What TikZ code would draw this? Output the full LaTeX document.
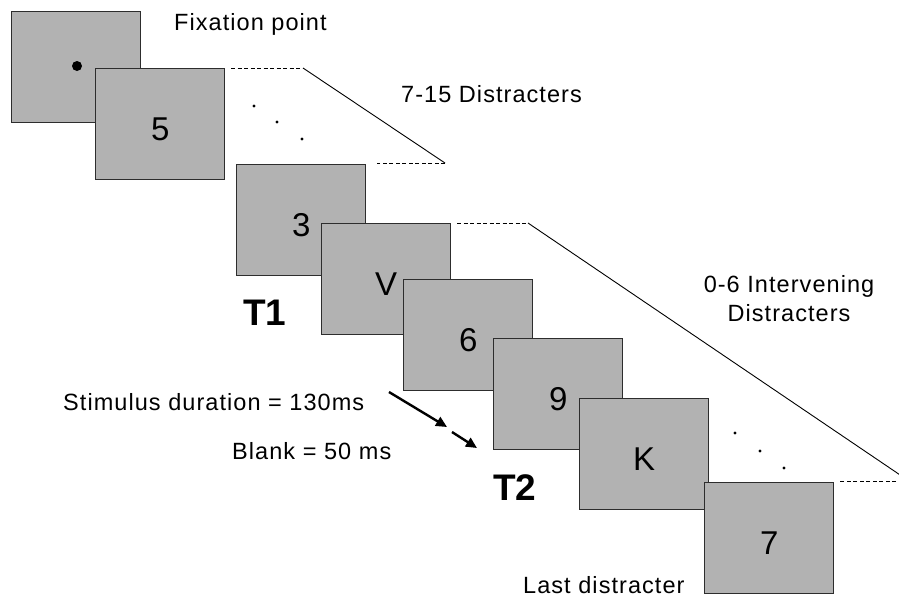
\documentclass[tikz,border=0pt]{standalone}
\usepackage{fontspec}
\setmainfont{Liberation Sans}
\newfontfamily\lbl[LetterSpace=4.5]{Liberation Sans}
\usetikzlibrary{arrows.meta}
\definecolor{boxgray}{RGB}{178,178,178}
\definecolor{boxline}{RGB}{45,45,45}
\tikzset{
  frame/.style={rectangle, draw=boxline, fill=boxgray, line width=1.4pt,
    minimum width=129pt, minimum height=111pt, inner sep=0pt, anchor=north west},
  glyph/.style={font=\fontsize{33}{36}\selectfont, inner sep=0pt},
  caption/.style={font=\lbl\fontsize{23.5}{29}\selectfont, inner sep=0pt, anchor=base west},
  target/.style={font=\bfseries\fontsize{37}{40}\selectfont, inner sep=0pt, anchor=base west},
  guide/.style={line width=0.9pt, black},
  guidedash/.style={guide, dash pattern=on 4pt off 2.5pt},
  timearrow/.style={line width=2.4pt, -{Triangle[length=11pt,width=10pt]}},
  trail/.style={circle, fill=black, inner sep=0pt, minimum size=3.4pt},
}
\begin{document}
\begin{tikzpicture}[x=1pt, y=-1pt]
  \fill[white] (0,0) rectangle (899,598);
  \clip (0,0) rectangle (899,598);

  % stimulus frames
  \node[frame] (f0) at (11,11) {};
  \node[circle, fill=black, inner sep=0pt, minimum size=10pt] (fix) at (77,66) {};
  \node[frame] (f1) at (95,68) {};
  \node[glyph] (t1) at ([yshift=-5pt]f1.center) {5};
  \node[frame] (f2) at (236,164) {};
  \node[glyph] (t2) at ([yshift=-5pt]f2.center) {3};
  \node[frame] (f3) at (321,223) {};
  \node[glyph] (t3) at ([yshift=-5pt]f3.center) {V};
  \node[frame] (f4) at (403,279) {};
  \node[glyph] (t4) at ([yshift=-5pt]f4.center) {6};
  \node[frame] (f5) at (493,338) {};
  \node[glyph] (t5) at ([yshift=-5pt]f5.center) {9};
  \node[frame] (f6) at (579,398) {};
  \node[glyph] (t6) at ([yshift=-5pt]f6.center) {K};
  \node[frame] (f7) at (704,482) {};
  \node[glyph] (t7) at ([yshift=-5pt]f7.center) {7};

  % first bracket (7-15 distracters)
  \coordinate (a1) at (231,68);
  \coordinate (a2) at (303,68);
  \coordinate (a3) at (445,163);
  \coordinate (a4) at (377,163);
  \draw[guidedash] (a1) -- (a2);
  \draw[guide] (a2) -- (a3);
  \draw[guidedash] (a3) -- (a4);
  \node[trail] (d1) at (254,106) {};
  \node[trail] (d2) at (277,122) {};
  \node[trail] (d3) at (302,139) {};

  % second bracket (0-6 intervening distracters)
  \coordinate (b1) at (457,223);
  \coordinate (b2) at (528,223);
  \coordinate (b3) at (909,481);
  \coordinate (b4) at (838,481);
  \draw[guidedash] (b1) -- (b2);
  \draw[guide] (b2) -- (b3);
  \draw[guidedash] (b3) -- (b4);
  \node[trail] (e1) at (735,433) {};
  \node[trail] (e2) at (760,451) {};
  \node[trail] (e3) at (784,468) {};

  % labels
  \node[caption] (lfix) at (174,30) {Fixation point};
  \node[caption] (ldis) at (401,102) {7-15 Distracters};
  \node[caption, anchor=center, align=center] (lint) at (789,298.5) {0-6 Intervening\\Distracters};
  \node[caption] (llast) at (523,593) {Last distracter};
  \node[caption] (lstim) at (63,410) {Stimulus duration = 130ms};
  \node[caption] (lblank) at (232,459) {Blank = 50 ms};
  \node[target] (lt1) at (243,325) {T1};
  \node[target] (lt2) at (493,500) {T2};

  % timing arrows
  \coordinate (p1) at (389,392);
  \coordinate (p2) at (447,427);
  \coordinate (p3) at (452,432);
  \coordinate (p4) at (477,448);
  \draw[timearrow] (p1) -- (p2);
  \draw[timearrow] (p3) -- (p4);
\end{tikzpicture}
\end{document}
